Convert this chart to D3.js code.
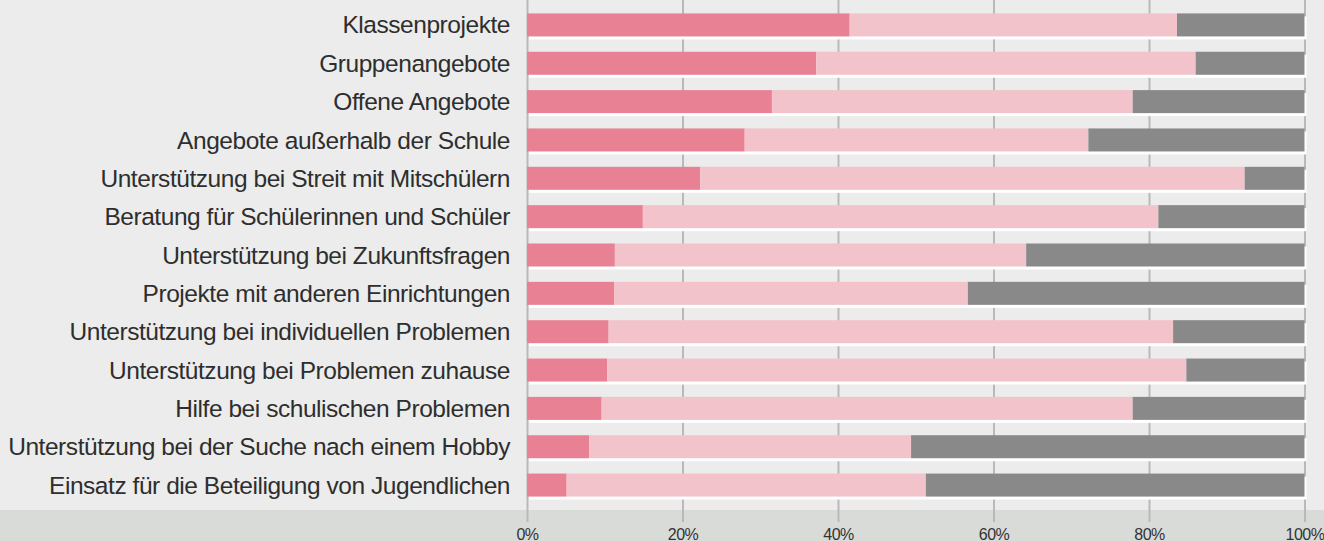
<!DOCTYPE html>
<html>
<head>
<meta charset="utf-8">
<script src="https://cdn.jsdelivr.net/npm/d3@7"></script>
<style>
  html, body { margin: 0; padding: 0; background: #ebeceb; }
  svg { display: block; }
</style>
</head>
<body>
<svg id="chart" width="1324" height="541"></svg>
<script>
// Offer categories, top to bottom
const categories = [
  "Klassenprojekte",
  "Gruppenangebote",
  "Offene Angebote",
  "Angebote außerhalb der Schule",
  "Unterstützung bei Streit mit Mitschülern",
  "Beratung für Schülerinnen und Schüler",
  "Unterstützung bei Zukunftsfragen",
  "Projekte mit anderen Einrichtungen",
  "Unterstützung bei individuellen Problemen",
  "Unterstützung bei Problemen zuhause",
  "Hilfe bei schulischen Problemen",
  "Unterstützung bei der Suche nach einem Hobby",
  "Einsatz für die Beteiligung von Jugendlichen"
];

// Shares in percent for the three stacked segments
const segmentA = [41.5, 37.2, 31.5, 28.0, 22.3, 14.9, 11.3, 11.2, 10.5, 10.3, 9.6, 8.0, 5.1];
const segmentB = [42.1, 48.8, 46.4, 44.2, 70.0, 66.3, 52.9, 45.5, 72.6, 74.5, 68.3, 41.4, 46.2];
const segmentC = [16.4, 14.0, 22.1, 27.8, 7.7, 18.8, 35.8, 43.3, 16.9, 15.2, 22.1, 50.6, 48.7];

const tickValues = [0, 20, 40, 60, 80, 100];
const segmentKeys = ["a", "b", "c"];
const segmentColors = ["#e88193", "#f2c3ca", "#898989"];

const W = 1324, H = 541;
const plotLeft = 527, plotRight = 1304.5;
const plotBottom = 510;

const svg = d3.select("#chart");

// background bands
svg.append("rect").attr("x", 0).attr("y", 0).attr("width", W).attr("height", plotBottom).attr("fill", "#ebeceb");
svg.append("rect").attr("x", 0).attr("y", plotBottom).attr("width", W).attr("height", H - plotBottom).attr("fill", "#d9dbd9");

const x = d3.scaleLinear().domain([0, 100]).range([plotLeft, plotRight]);
const y = d3.scaleBand().domain(categories).range([0, plotBottom]).paddingInner(0.4).paddingOuter(0.35);

const rows = categories.map((c, i) => ({ cat: c, a: segmentA[i], b: segmentB[i], c: segmentC[i] }));
const stacked = d3.stack().keys(segmentKeys)(rows);

// vertical grid lines + tick labels
const axis = d3.axisBottom(x).tickValues(tickValues).tickFormat(d => d + "%").tickSize(plotBottom + 12).tickPadding(6);
const axisG = svg.append("g").attr("class", "axis").call(axis);
axisG.select(".domain").remove();
axisG.selectAll(".tick line").attr("stroke", "#b9b9b9").attr("stroke-width", 2);
axisG.selectAll(".tick text")
  .attr("fill", "#333")
  .attr("font-family", "'Liberation Sans', Arial, sans-serif")
  .attr("font-size", 16)
  .attr("letter-spacing", "-0.5px")
  .attr("dy", null)
  .attr("y", 540);

// white drop shadow behind each full row
svg.append("g").selectAll("rect").data(rows).join("rect")
  .attr("x", x(0) + 2)
  .attr("y", d => y(d.cat) + 3)
  .attr("width", x(100) - x(0))
  .attr("height", y.bandwidth())
  .attr("fill", "#ffffff");

// stacked segments
svg.append("g").selectAll("g").data(stacked).join("g")
  .attr("fill", (d, i) => segmentColors[i])
  .selectAll("rect").data(d => d).join("rect")
  .attr("x", d => x(d[0]))
  .attr("y", d => y(d.data.cat))
  .attr("width", d => x(d[1]) - x(d[0]))
  .attr("height", y.bandwidth());

// category labels
svg.append("g").selectAll("text").data(categories).join("text")
  .attr("x", plotLeft - 17)
  .attr("y", d => y(d) + y.bandwidth() / 2)
  .attr("dy", "0.35em")
  .attr("text-anchor", "end")
  .attr("fill", "#2e2e2e")
  .attr("font-family", "'Liberation Sans', Arial, sans-serif")
  .attr("font-size", 24.5)
  .attr("letter-spacing", "-0.45px")
  .text(d => d);
</script>
</body>
</html>
